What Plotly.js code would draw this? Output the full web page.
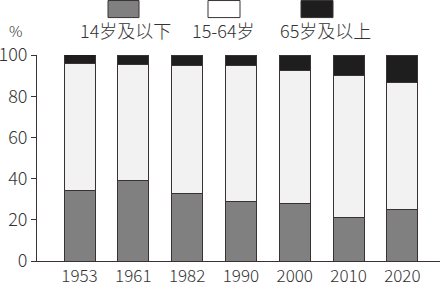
<!DOCTYPE html>
<html>
<head>
<meta charset="utf-8">
<script src="https://cdn.plot.ly/plotly-3.0.1.min.js"></script>
<style>html,body{margin:0;padding:0;background:#fff;}#chart{width:442px;height:286px;}</style>
</head>
<body>
<div id="chart"></div>
<script>
var years = ['1953', '1961', '1982', '1990', '2000', '2010', '2020'];
var seriesNames = ['14岁及以下', '15-64岁', '65岁及以上'];
var age0to14 = [34, 39, 33, 29, 28, 21, 25];
var age65plus = [4.5, 4.5, 5, 5, 7.5, 10, 13.5];
var age15to64 = [62, 56.5, 62, 66, 64.5, 69, 61.5]; // remainder of 100
var yTicks = [0, 20, 40, 60, 80, 100];

var colors = ['#808080', '#f2f2f2', '#1e1e1e'];
var edge = '#3a3232';
var values = [age0to14, age15to64, age65plus];
var FONT = '"Noto Sans CJK SC", "Noto Sans", sans-serif';
var tf = {family: FONT, size: 18, color: '#333', weight: 300};
var xf = {family: FONT, size: 17, color: '#333', weight: 300};

var traces = values.map(function (v, i) {
  return {
    type: 'bar', x: years, y: v, name: seriesNames[i],
    marker: {color: colors[i], line: {color: edge, width: 1}},
    showlegend: false, hoverinfo: 'none'
  };
});

// legend drawn manually: box above, text below
var L = 37, W = 403, B = 260.7, H = 205.4;
function px(x) { return (x - L) / W; }
function py(y) { return (B - y) / H; }
var boxX = [[108, 139], [208, 240], [301, 333]];
var textX = [125, 223, 325];
var shapes = [], annotations = [];
for (var i = 0; i < 3; i++) {
  shapes.push({type: 'rect', xref: 'paper', yref: 'paper',
    x0: px(boxX[i][0]), x1: px(boxX[i][1]), y0: py(18), y1: py(1),
    fillcolor: i === 1 ? '#ffffff' : colors[i], line: {color: edge, width: 1}});
  annotations.push({xref: 'paper', yref: 'paper', x: px(textX[i]), y: py(30),
    text: seriesNames[i], showarrow: false, xanchor: 'center', yanchor: 'middle',
    font: tf});
}
annotations.push({xref: 'paper', yref: 'paper', x: px(15), y: py(31),
  text: '%', showarrow: false, xanchor: 'center', yanchor: 'middle',
  borderpad: 0,
  font: {family: FONT, size: 15, color: '#333', weight: 300}});

var layout = {
  width: 442, height: 286,
  margin: {l: 37, r: 2, t: 55, b: 25, pad: 0},
  paper_bgcolor: '#fff', plot_bgcolor: '#fff',
  barmode: 'stack', bargap: 0.424,
  font: tf,
  xaxis: {type: 'category', range: [-0.79, 6.70], showline: true, linecolor: edge, linewidth: 1,
    ticks: '', showgrid: false, zeroline: false, tickfont: xf, ticklabelstandoff: 0},
  yaxis: {range: [0, 100], tickvals: yTicks, ticktext: yTicks.map(String), showline: true,
    linecolor: edge, linewidth: 1, ticks: 'outside', ticklen: 5, tickcolor: edge,
    showgrid: false, zeroline: false, tickfont: tf, ticklabelstandoff: 0},
  shapes: shapes, annotations: annotations
};
Plotly.newPlot('chart', traces, layout, {staticPlot: true, displayModeBar: false});
</script>
</body>
</html>
